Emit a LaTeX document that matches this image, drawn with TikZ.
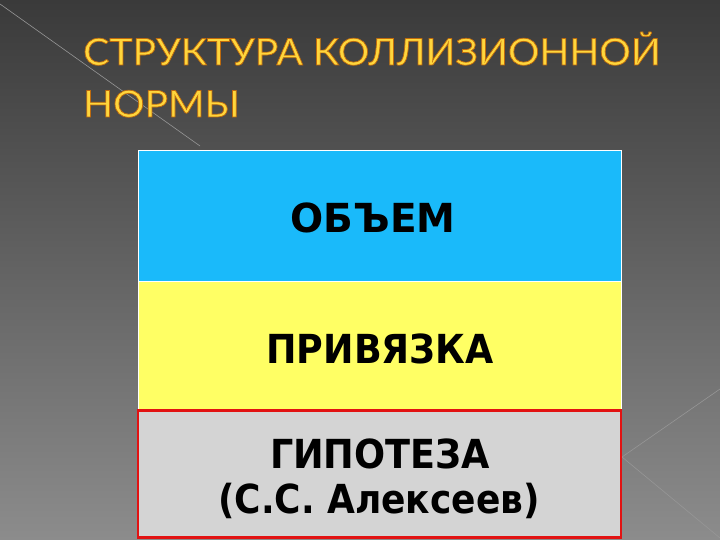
\documentclass[tikz,border=0pt]{standalone}
\usepackage{fontspec}
\usepackage{graphicx}
\setmainfont{DejaVu Sans}
\newfontfamily\titlefont{Lato}
\newfontfamily\boxfont{DejaVu Sans}
\definecolor{bgtop}{RGB}{58,58,58}
\definecolor{bgbot}{RGB}{140,140,140}
\definecolor{boxblue}{RGB}{26,186,250}
\definecolor{boxyellow}{RGB}{255,255,100}
\definecolor{boxgray}{RGB}{212,212,212}
\definecolor{boxred}{RGB}{226,18,18}
\definecolor{titlegold}{RGB}{255,214,60}
\definecolor{facetline}{RGB}{150,150,150}
\newcommand{\outlinedtitle}[1]{\scalebox{1.06}[1]{\color{titlegold}\special{pdf:literal direct 0.7 w 0.75 0.42 0.05 RG 2 Tr}#1\special{pdf:literal direct 0 Tr}}}
\tikzset{
  band/.style={rectangle, draw=white, line width=0.8pt, minimum width=483pt, inner sep=0pt, outer sep=0pt},
  boxtext/.style={anchor=base, inner sep=0pt, font=\boxfont\bfseries\fontsize{40}{44}\selectfont, text=black},
  titletext/.style={anchor=base west, inner sep=0pt, font=\titlefont\fontsize{37}{40}\selectfont},
  facet/.style={draw=facetline, line width=0.6pt}
}
\begin{document}
\begin{tikzpicture}[x=1pt,y=-1pt]
\useasboundingbox (0,0) rectangle (720,540);
% background
\shade[top color=bgtop, bottom color=bgbot] (0,0) rectangle (720,540);
\coordinate (fa) at (0,4);
\coordinate (fb) at (200,146);
\draw[facet] (fa) -- (fb);
\coordinate (fc) at (622,457);
\coordinate (fd) at (720,389);
\coordinate (fe) at (720,538);
\draw[facet] (fd) -- (fc) -- (fe);
% title
\node[titletext] (title1) at (83,65) {\outlinedtitle{СТРУКТУРА КОЛЛИЗИОННОЙ}};
\node[titletext] (title2) at (83,117) {\outlinedtitle{НОРМЫ}};
% bands
\node[band, fill=boxblue, minimum height=131pt] (vol) at (379.5,215.5) {};
\node[band, fill=boxyellow, minimum height=128pt] (bind) at (379.5,345) {};
\node[band, fill=boxgray, draw=boxred, line width=2.6pt, minimum height=127pt] (hyp) at (379.5,474) {};
% texts
\node[boxtext] (tvol) at (373,233) {\scalebox{0.975}[1]{ОБЪЕМ}};
\node[boxtext] (tbind) at (380,363) {\scalebox{0.91}[1]{ПРИВЯЗКА}};
\node[boxtext] (thyp) at (380,468) {\scalebox{0.915}[1]{ГИПОТЕЗА}};
\node[boxtext] (tauth) at (379,513) {\scalebox{0.90}[1]{(С.С. Алексеев)}};
\end{tikzpicture}
\end{document}
